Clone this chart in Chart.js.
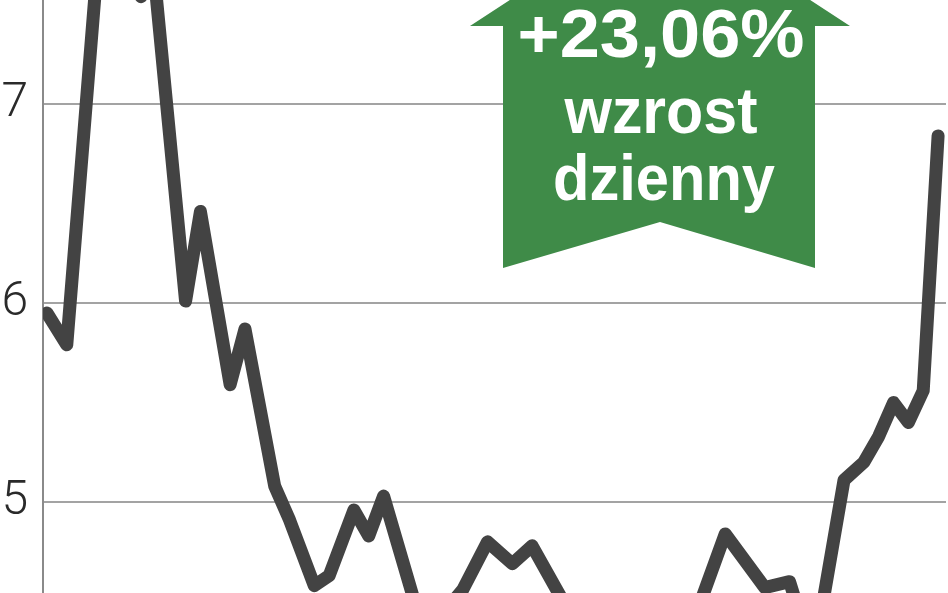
<!DOCTYPE html>
<html>
<head>
<meta charset="utf-8">
<script src="https://cdn.jsdelivr.net/npm/chart.js@4.4.1/dist/chart.umd.min.js"></script>
<style>
  html, body { margin: 0; padding: 0; background: #fff; }
  #wrap { width: 948px; height: 593px; position: relative; }
</style>
</head>
<body>
<div id="wrap"><canvas id="priceChart"></canvas></div>

<script>
// calendar day of each turning point, and closing price (zł)
const days = [0, 4, 11, 15, 19, 21, 28, 31, 37, 40,
              46, 49, 54, 57, 62, 65, 68, 76, 82, 84,
              89, 94, 98, 107, 116, 124, 130, 137, 145, 150,
              153, 156, 161, 165, 168, 171, 174, 177, 180];
const prices = [5.95, 5.79, 7.95, 7.77, 7.54, 7.82, 6.01, 6.46, 5.59, 5.87,
                5.08, 4.91, 4.58, 4.63, 4.96, 4.83, 5.03, 4.35, 4.50, 4.56,
                4.80, 4.69, 4.78, 4.38, 4.31, 4.44, 4.36, 4.84, 4.57, 4.60,
                4.36, 4.39, 5.11, 5.20, 5.33, 5.50, 5.40, 5.56, 6.84];
const yTicks = [5, 6, 7];
const badgeLines = ["+23,06%", "wzrost", "dzienny"];

const GREEN = "#3f8b48";

// green "up" arrow with the daily change
const arrowBadge = {
  id: "arrowBadge",
  afterDraw(chart) {
    const ctx = chart.ctx;
    const cx = 660;
    ctx.save();
    ctx.fillStyle = GREEN;
    ctx.beginPath();
    ctx.moveTo(cx - 157, 268);
    ctx.lineTo(cx - 157, 26);
    ctx.lineTo(cx - 190, 26);
    ctx.lineTo(cx, -98);
    ctx.lineTo(cx + 190, 26);
    ctx.lineTo(cx + 155, 26);
    ctx.lineTo(cx + 155, 268);
    ctx.lineTo(cx, 222);
    ctx.closePath();
    ctx.fill();

    ctx.fillStyle = "#fff";
    ctx.textAlign = "center";
    ctx.textBaseline = "alphabetic";
    const specs = [
      { size: 69, base: 57, w: 287, x: 661 },
      { size: 64, base: 133, w: 193, x: 661 },
      { size: 64, base: 200, w: 222, x: 664 },
    ];
    badgeLines.forEach((txt, i) => {
      const s = specs[i];
      ctx.font = `bold ${s.size}px "Liberation Sans", Arial, sans-serif`;
      const m = ctx.measureText(txt).width;
      ctx.save();
      ctx.translate(s.x, s.base);
      ctx.scale(s.w / m, 1);
      ctx.fillText(txt, 0, 0);
      ctx.restore();
    });
    ctx.restore();
  }
};

const ctx = document.getElementById("priceChart").getContext("2d");

new Chart(ctx, {
  type: "line",
  data: {
    datasets: [{
      data: days.map((d, i) => ({ x: d, y: prices[i] })),
      borderColor: "#434343",
      borderWidth: 13,
      borderJoinStyle: "round",
      borderCapStyle: "round",
      pointRadius: 0,
      tension: 0,
      fill: false,
    }]
  },
  options: {
    responsive: true,
    maintainAspectRatio: false,
    animation: false,
    layout: { padding: { left: 0, right: 2, top: 0, bottom: 0 } },
    plugins: {
      legend: { display: false },
      tooltip: { enabled: false },
    },
    scales: {
      x: {
        type: "linear",
        display: false,
        min: -0.8,
        max: 181.6,
      },
      y: {
        min: 4.543,
        max: 7.523,
        afterFit: (scale) => {
          scale.width = 43;
          // labels sit well inside the plot, no extra room needed
          scale.paddingTop = 0;
          scale.paddingBottom = 0;
        },
        afterBuildTicks: (scale) => { scale.ticks = yTicks.map(v => ({ value: v })); },
        border: { display: true, color: "#8a8a8a", width: 2 },
        grid: { color: "#a3a3a3", lineWidth: 2, drawTicks: false },
        ticks: {
          padding: 15,
          color: "#2a2a2a",
          font: { family: "Roboto", size: 48, weight: 300 },
        },
      }
    }
  },
  plugins: [arrowBadge]
});
</script>
</body>
</html>
